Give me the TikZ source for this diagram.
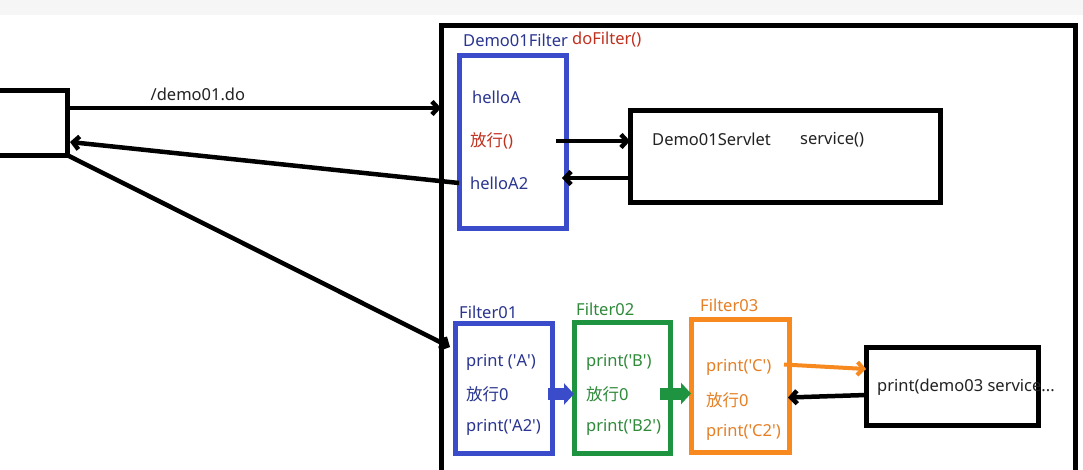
\documentclass[tikz,border=0pt]{standalone}
\usepackage{fontspec}
\setmainfont{Noto Sans}
\newfontfamily\cjk{Noto Sans CJK SC}
\newcommand{\fx}{{\cjk 放行}}
\newcommand{\q}{\textquotesingle}
\usetikzlibrary{arrows.meta,calc}
\definecolor{fblue}{HTML}{3B4CCA}
\definecolor{tnavy}{HTML}{2A3590}
\definecolor{tred}{HTML}{C0301E}
\definecolor{fgreen}{HTML}{1E9440}
\definecolor{tgreen}{HTML}{2F8A3A}
\definecolor{forange}{HTML}{F7891E}
\definecolor{torange}{HTML}{E57F25}
\definecolor{tdark}{HTML}{222222}
\definecolor{topbar}{HTML}{F6F6F6}
\begin{document}
\begin{tikzpicture}[x=1pt,y=-1pt,
  box/.style={draw, line width=5pt, inner sep=0pt, outer sep=0pt},
  conn/.style={line width=4.5pt, -{Straight Barb[length=6pt,width=13pt]}},
  lbl/.style={font=\fontsize{16.5}{19}\selectfont, inner sep=0pt, anchor=west},
  slbl/.style={font=\fontsize{16.5}{19}\selectfont, inner sep=0pt, anchor=west},
  blockarrow/.style={line width=12pt, -{Triangle[length=10pt,width=21pt]}}]
\useasboundingbox[fill=white] (0,0) rectangle (1083,469);
\fill[topbar] (0,0) rectangle (1083,15);
% boxes
\node[box, minimum width=87pt, minimum height=65pt] (client) at (23.5,122.5) {};
\node[box, minimum width=634pt, minimum height=475pt] (frame) at (758,262.5) {};
\node[box, draw=fblue, minimum width=107pt, minimum height=173pt] (demoF) at (512.5,141.5) {};
\node[box, minimum width=310pt, minimum height=92pt] (servlet) at (785,156) {};
\node[box, draw=fblue, minimum width=97pt, minimum height=130pt] (f1) at (503.5,388) {};
\node[box, draw=fgreen, minimum width=96pt, minimum height=131pt] (f2) at (622,387.5) {};
\node[box, draw=forange, minimum width=98pt, minimum height=133pt] (f3) at (740,385.5) {};
\node[box, minimum width=172pt, minimum height=78pt] (d3) at (952,386) {};
% labels
\node[lbl, text=tnavy] (dfl) at (463,40) {Demo01Filter};
\node[lbl, text=tred] (dfm) at (572,40) {doFilter()};
\node[lbl, text=tnavy] (hA) at (472,97) {helloA};
\node[lbl, text=tred] (fang) at (470,141) {\fx()};
\node[lbl, text=tnavy] (hA2) at (470,183) {helloA2};
\node[slbl, text=tdark] (sv) at (652,139) {Demo01Servlet};
\node[slbl, text=tdark] (svm) at (800,140) {service()};
\node[lbl, text=tnavy] (l1) at (459,312) {Filter01};
\node[lbl, text=tgreen] (l2) at (576,309) {Filter02};
\node[lbl, text=torange] (l3) at (700,305) {Filter03};
\node[lbl, text=tnavy] (a1) at (466,362) {print (\q A\q)};
\node[lbl, text=tnavy] (a2) at (466,394) {\fx 0};
\node[lbl, text=tnavy] (a3) at (466,427) {print(\q A2\q)};
\node[lbl, text=tgreen] (b1) at (586,362) {print(\q B\q)};
\node[lbl, text=tgreen] (b2) at (586,394) {\fx 0};
\node[lbl, text=tgreen] (b3) at (586,427) {print(\q B2\q)};
\node[lbl, text=torange] (c1) at (706,367) {print(\q C\q)};
\node[lbl, text=torange] (c2) at (706,400) {\fx 0};
\node[lbl, text=torange] (c3) at (706,432) {print(\q C2\q)};
\node[slbl, text=tdark] (d3t) at (877,387) {print(demo03 service...};
% connectors
\path ([yshift=14.5pt]client.east) coordinate (s1);
\draw[conn] (s1) -- node[pos=0.35, above=5pt, font=\fontsize{16.5}{19}\selectfont, text=tdark, inner sep=0pt] {/demo01.do} (frame.west |- s1);
\draw[conn] (demoF.west |- hA2) -- ([xshift=3pt,yshift=-19.5pt]client.east);
\draw[conn] (client.south east) -- ([xshift=-5pt,yshift=41pt]f1.west);
\draw[conn] ([xshift=-10pt]demoF.east |- fang) -- (servlet.west |- fang);
\draw[conn] ([yshift=-22pt]servlet.west) -- ([xshift=-4pt,yshift=-22pt]demoF.east |- servlet.west);
\draw[blockarrow, fblue] ([xshift=-4pt,yshift=-6pt]f1.east) -- ([yshift=-6pt]f2.west |- f1.east);
\draw[blockarrow, fgreen] ([xshift=-10pt,yshift=-6pt]f2.east) -- ([yshift=-6pt]f3.west |- f2.east);
\draw[line width=4pt, forange, -{Straight Barb[length=6pt,width=13pt]}] ([xshift=-5pt,yshift=21pt]f3.east) -- ([yshift=17pt]d3.west);
\draw[conn] ([yshift=-9pt]d3.west) -- ([xshift=-1pt,yshift=-12pt]f3.east);
\end{tikzpicture}
\end{document}
